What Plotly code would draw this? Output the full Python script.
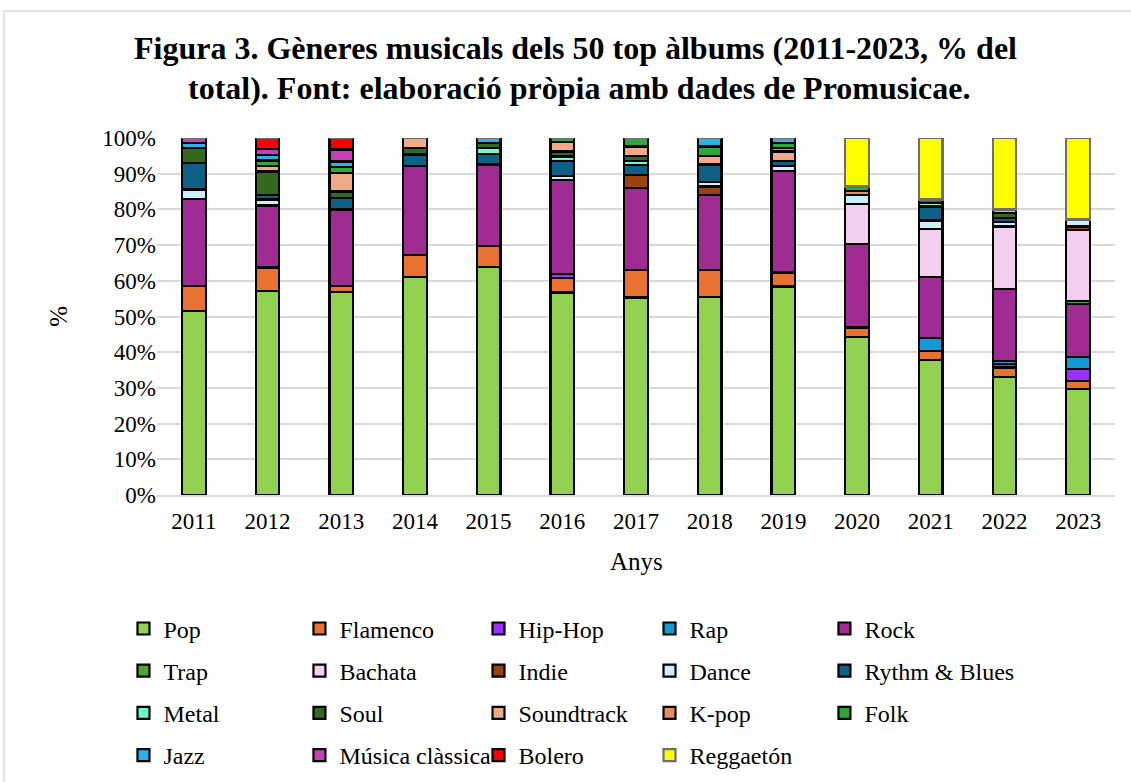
import plotly.graph_objects as go

years = ["2011", "2012", "2013", "2014", "2015", "2016", "2017",
         "2018", "2019", "2020", "2021", "2022", "2023"]

# Share of each genre per year (% of the top-50 albums), stacked bottom to top
pop =        [51.5, 57.1, 56.8, 61.0, 63.8, 56.7, 55.3, 55.5, 58.4, 44.3, 37.8, 33.0, 29.6]
flamenco =   [7.0, 6.6, 1.7, 6.2, 5.9, 4.0, 7.7, 7.5, 3.9, 2.6, 2.6, 2.7, 2.4]
hiphop =     [0, 0, 0, 0, 0, 1.1, 0, 0, 0, 0, 0, 0.9, 3.2]
rap =        [0, 0, 0, 0, 0, 0, 0, 0, 0, 0, 3.5, 1.0, 3.4]
rock =       [24.4, 17.4, 21.5, 25.0, 22.9, 26.4, 22.9, 21.0, 28.5, 23.4, 17.1, 20.0, 14.9]
trap =       [0, 0, 0, 0, 0, 0, 0, 0, 0, 0, 0, 0, 0.9]
bachata =    [0, 0, 0, 0, 0, 0, 0, 0, 0, 11.2, 13.4, 17.6, 19.8]
indie =      [0, 0, 0, 0, 0, 0, 3.7, 2.4, 0, 0, 0, 0, 1.0]
dance =      [2.7, 1.7, 0, 0, 0, 1.2, 0, 1.2, 1.4, 2.5, 2.5, 1.3, 2.0]
rnb =        [7.3, 1.3, 3.3, 3.2, 2.9, 4.2, 2.8, 5.0, 1.4, 0, 3.9, 1.2, 0]
metal =      [0, 0, 0, 0, 1.6, 1.2, 1.2, 0, 0, 0, 0.9, 0, 0]
soul =       [4.2, 6.5, 1.7, 1.7, 1.6, 1.4, 1.4, 0, 0, 0, 1.1, 1.2, 0]
soundtrack = [0, 1.6, 5.1, 2.9, 0, 2.6, 2.6, 2.4, 2.6, 0, 0, 1.1, 0]
kpop =       [0, 0, 0, 0, 0, 0, 0, 0, 1.1, 1.2, 0, 0, 0]
folk =       [0, 1.5, 1.7, 0, 0, 1.2, 2.4, 2.6, 1.4, 1.2, 0, 0, 0]
jazz =       [1.4, 1.5, 1.6, 0, 1.3, 0, 0, 2.4, 1.3, 0, 0, 0, 0]
classica =   [1.5, 1.7, 3.4, 0, 0, 0, 0, 0, 0, 0, 0, 0, 0]
bolero =     [0, 3.1, 3.2, 0, 0, 0, 0, 0, 0, 0, 0, 0, 0]
reggaeton =  [0, 0, 0, 0, 0, 0, 0, 0, 0, 13.6, 17.2, 20.0, 22.8]

y_ticks = list(range(0, 101, 10))
y_tick_labels = [f"{v}%" for v in y_ticks]

series = [
    ("Pop", pop, "#92D050"),
    ("Flamenco", flamenco, "#E97132"),
    ("Hip-Hop", hiphop, "#9B30FF"),
    ("Rap", rap, "#129AD6"),
    ("Rock", rock, "#A02B93"),
    ("Trap", trap, "#4EA72E"),
    ("Bachata", bachata, "#F2CEEF"),
    ("Indie", indie, "#9A4210"),
    ("Dance", dance, "#CAEEFB"),
    ("Rythm & Blues", rnb, "#0E6185"),
    ("Metal", metal, "#66FFCC"),
    ("Soul", soul, "#336A1E"),
    ("Soundtrack", soundtrack, "#F2AA84"),
    ("K-pop", kpop, "#EC8A5A"),
    ("Folk", folk, "#2EA83A"),
    ("Jazz", jazz, "#27B4EC"),
    ("Música clàssica", classica, "#C83FBC"),
    ("Bolero", bolero, "#FF0000"),
    ("Reggaetón", reggaeton, "#FFFF00"),
]

SERIF = "Liberation Serif"
LEGEND_IDS = ["legend", "legend2", "legend3", "legend4", "legend5"]

fig = go.Figure()
for i, (name, vals, color) in enumerate(series):
    edge = "#6E6E6E" if name == "Reggaetón" else "#000000"
    fig.add_trace(go.Bar(
        x=years, y=vals, name=name, legendgroup=name,
        marker=dict(color=color, line=dict(color=edge, width=2.2)),
        legend=LEGEND_IDS[i % 5],
    ))

# one vertical legend per column of the 5 x 4 key grid
col_x = [-0.0350, 0.1487, 0.3356, 0.5141, 0.6967]

def col_legend(xpos):
    return dict(
        orientation="v", x=xpos, y=-0.312, xanchor="left", yanchor="top",
        traceorder="grouped", tracegroupgap=8, itemwidth=30,
        font=dict(family=SERIF, size=24, color="#000000"),
        bgcolor="rgba(0,0,0,0)",
    )

fig.update_layout(
    width=1131, height=782,
    margin=dict(l=157, r=16, t=138, b=287, autoexpand=False),
    paper_bgcolor="#FFFFFF", plot_bgcolor="#FFFFFF",
    barmode="stack", bargap=0.68,
    font=dict(family=SERIF, size=20, color="#000000"),
    showlegend=True,
    **{lid: col_legend(cx) for lid, cx in zip(LEGEND_IDS, col_x)},
    xaxis=dict(
        type="category", showgrid=False, ticks="", showline=True,
        linecolor="#D9D9D9", linewidth=2, ticklabelstandoff=4,
        tickfont=dict(family=SERIF, size=23, color="#000000"),
    ),
    yaxis=dict(
        range=[0, 100], tickvals=y_ticks, ticktext=y_tick_labels,
        showgrid=True, gridcolor="#D9D9D9", gridwidth=2,
        zeroline=False, showline=False, ticks="",
        tickfont=dict(family=SERIF, size=23, color="#000000"),
    ),
    shapes=[dict(
        type="rect", xref="paper", yref="paper",
        x0=-0.1597, x1=1.0305, y0=-0.823, y1=1.356,
        line=dict(color="#D9D9D9", width=1.5), layer="below",
    )],
    annotations=[
        dict(text="<b>Figura 3. Gèneres musicals dels 50 top àlbums (2011-2023, % del</b>",
             x=0.437, y=1.252, xref="paper", yref="paper", showarrow=False,
             xanchor="center", yanchor="middle",
             font=dict(family=SERIF, size=32, color="#000000")),
        dict(text="<b>total). Font: elaboració pròpia amb dades de Promusicae.</b>",
             x=0.440, y=1.140, xref="paper", yref="paper", showarrow=False,
             xanchor="center", yanchor="middle",
             font=dict(family=SERIF, size=32, color="#000000")),
        dict(text="%", x=-0.103, y=0.5, xref="paper", yref="paper", showarrow=False,
             textangle=-90, xanchor="center", yanchor="middle",
             font=dict(family=SERIF, size=25, color="#000000")),
        dict(text="Anys", x=0.5, y=-0.185, xref="paper", yref="paper", showarrow=False,
             xanchor="center", yanchor="middle",
             font=dict(family=SERIF, size=25, color="#000000")),
    ],
)

fig.write_html("out.html")
